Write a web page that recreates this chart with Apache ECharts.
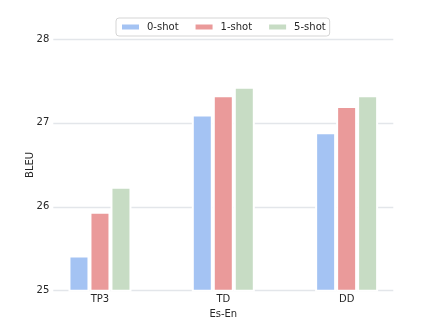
<!DOCTYPE html>
<html>
<head>
<meta charset="utf-8">
<script src="https://cdn.jsdelivr.net/npm/echarts@6/dist/echarts.min.js"></script>
<style>
  html, body { margin: 0; padding: 0; background: #fff; }
  #chart { width: 436px; height: 327px; }
</style>
</head>
<body>
<div id="chart"></div>
<script>
const categories = ["TP3", "TD", "DD"];
const seriesNames = ["0-shot", "1-shot", "5-shot"];
const zeroShot = [25.42, 27.10, 26.89];
const oneShot = [25.94, 27.33, 27.20];
const fiveShot = [26.24, 27.43, 27.33];
const colors = ["#a4c3f3", "#ea9a9a", "#c7dcc4"];

const font = "DejaVu Sans";
const textColor = "#262626";

const chart = echarts.init(document.getElementById("chart"));

// grid 0 carries the y gridlines and labels, grid 1 the bars (wider bands)
const grids = [
  { left: 53.3, right: 42.7, top: 39, bottom: 36.3 },
  { left: 38.3, right: 27.7, top: 39, bottom: 36.3 }
];

chart.setOption({
  animation: false,
  color: colors,
  textStyle: { fontFamily: font },
  legend: {
    top: 18,
    left: 116,
    itemWidth: 19,
    itemHeight: 7,
    itemGap: 15,
    icon: "rect",
    padding: [4, 4, 4, 4],
    borderColor: "#d5d5d5",
    borderWidth: 1,
    borderRadius: 3,
    backgroundColor: "#fff",
    textStyle: { fontFamily: font, fontSize: 10, color: textColor, padding: [0, 0, 0, 2] },
    data: seriesNames
  },
  grid: grids,
  xAxis: [
    { gridIndex: 0, type: "value", min: 0, max: 1, show: false },
    {
      gridIndex: 1,
      type: "category",
      data: categories,
      axisLine: { show: false },
      axisTick: { show: false },
      axisLabel: { fontFamily: font, fontSize: 10, color: textColor, margin: 4 },
      name: "Es-En",
      nameLocation: "middle",
      nameGap: 13,
      nameTextStyle: { fontFamily: font, fontSize: 10, color: textColor }
    }
  ],
  yAxis: [
    {
      gridIndex: 0,
      type: "value",
      min: 25,
      max: 28,
      interval: 1,
      axisLine: { show: false },
      axisTick: { show: false },
      axisLabel: { fontFamily: font, fontSize: 10, color: textColor, margin: 4 },
      splitLine: { lineStyle: { color: "#e3e6ea", width: 1.3 } },
      name: "BLEU",
      nameLocation: "middle",
      nameGap: 18,
      nameMoveOverlap: false,
      nameTextStyle: { fontFamily: font, fontSize: 10, color: textColor }
    },
    { gridIndex: 1, type: "value", min: 25, max: 28, show: false }
  ],
  series: [zeroShot, oneShot, fiveShot].map((vals, i) => ({
    name: seriesNames[i],
    type: "bar",
    xAxisIndex: 1,
    yAxisIndex: 1,
    data: vals,
    barWidth: 21,
    barGap: "0%",
    itemStyle: { color: colors[i], borderColor: "#fff", borderWidth: 2 }
  }))
});
</script>
</body>
</html>
